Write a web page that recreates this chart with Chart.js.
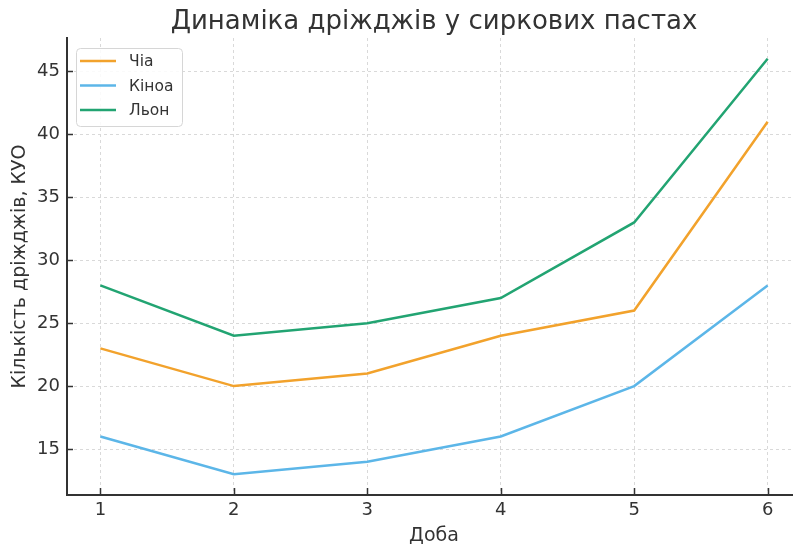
<!DOCTYPE html>
<html>
<head>
<meta charset="utf-8">
<script src="https://cdn.jsdelivr.net/npm/chart.js@4/dist/chart.umd.min.js"></script>
<style>
  html, body { margin: 0; padding: 0; background: #fff; overflow: hidden; }
  #wrap { position: relative; width: 868px; height: 548px; }
</style>
</head>
<body>
<div id="wrap"><canvas id="c"></canvas></div>
<script>
// Days of storage
const days = [1, 2, 3, 4, 5, 6];
// Yeast counts per paste, CFU
const chia   = [23, 20, 21, 24, 26, 41];
const quinoa = [16, 13, 14, 16, 20, 28];
const flax   = [28, 24, 25, 27, 33, 46];
// Axis tick values
const xTicks = [1, 2, 3, 4, 5, 6];
const yTicks = [15, 20, 25, 30, 35, 40, 45];

const seriesNames = ['Чіа', 'Кіноа', 'Льон'];
const seriesColors = ['#F2A22C', '#5CB6E8', '#22A472'];
const seriesValues = [chia, quinoa, flax];

const chartTitle = 'Динаміка дріжджів у сиркових пастах';

const FONT = 'DejaVu Sans, Verdana, sans-serif';
const INK = '#333333';

// Title centred over the plotting area
const plotTitle = {
  id: 'plotTitle',
  afterDraw(chart) {
    const ctx = chart.ctx;
    const a = chart.chartArea;
    ctx.save();
    ctx.font = '26px ' + FONT;
    ctx.fillStyle = INK;
    ctx.textAlign = 'center';
    ctx.textBaseline = 'alphabetic';
    ctx.fillText(chartTitle, (a.left + a.right) / 2, 28.5);
    ctx.restore();
  }
};

// Short tick marks pointing into the plot from both axes
const innerTicks = {
  id: 'innerTicks',
  afterDatasetsDraw(chart) {
    const ctx = chart.ctx;
    const a = chart.chartArea;
    const xs = chart.scales.x, ys = chart.scales.y;
    ctx.save();
    ctx.strokeStyle = INK;
    ctx.lineWidth = 1.5;
    ctx.beginPath();
    xs.ticks.forEach(t => {
      const px = Math.round(xs.getPixelForValue(t.value)) + 0.5;
      ctx.moveTo(px, a.bottom);
      ctx.lineTo(px, a.bottom - 7);
    });
    ys.ticks.forEach(t => {
      const py = Math.round(ys.getPixelForValue(t.value)) + 0.5;
      ctx.moveTo(a.left, py);
      ctx.lineTo(a.left + 6, py);
    });
    ctx.stroke();
    ctx.restore();
  }
};

// Legend in a rounded box at the top-left of the plot
const boxLegend = {
  id: 'boxLegend',
  afterDatasetsDraw(chart) {
    const ctx = chart.ctx;
    const a = chart.chartArea;
    const x0 = a.left + 9, y0 = a.top + 10, w = 106, h = 78;
    ctx.save();
    ctx.beginPath();
    ctx.roundRect(x0 + 0.5, y0 + 0.5, w, h, 4);
    ctx.fillStyle = 'rgba(255,255,255,0.85)';
    ctx.fill();
    ctx.strokeStyle = '#d6d6d6';
    ctx.lineWidth = 1;
    ctx.stroke();
    ctx.font = '15.5px ' + FONT;
    ctx.textBaseline = 'middle';
    chart.data.datasets.forEach((ds, i) => {
      const y = y0 + 13 + i * 24.5;
      ctx.beginPath();
      ctx.moveTo(x0 + 4, y);
      ctx.lineTo(x0 + 40, y);
      ctx.strokeStyle = ds.borderColor;
      ctx.lineWidth = 2.5;
      ctx.stroke();
      ctx.fillStyle = INK;
      ctx.fillText(ds.label, x0 + 53, y + 1);
    });
    ctx.restore();
  }
};

new Chart(document.getElementById('c'), {
  type: 'line',
  data: {
    datasets: seriesNames.map((name, i) => ({
      label: name,
      data: days.map((d, k) => ({ x: d, y: seriesValues[i][k] })),
      borderColor: seriesColors[i],
      backgroundColor: seriesColors[i],
      borderWidth: 2.5,
      pointRadius: 0,
      tension: 0,
      fill: false
    }))
  },
  options: {
    responsive: true,
    maintainAspectRatio: false,
    animation: false,
    devicePixelRatio: 1,
    layout: { padding: { left: 0, right: 67, top: 38, bottom: 0 } },
    plugins: {
      legend: { display: false },
      tooltip: { enabled: false },
      title: { display: false }
    },
    scales: {
      x: {
        type: 'linear',
        min: 0.75,
        max: 6.25,
        afterBuildTicks: s => { s.ticks = xTicks.map(v => ({ value: v })); },
        afterFit: s => { s.height = 53; },
        ticks: {
          color: INK,
          font: { family: FONT, size: 18 },
          padding: 5,
          maxRotation: 0
        },
        grid: {
          color: '#d9d9d9',
          lineWidth: 1,
          drawTicks: false
        },
        border: { display: true, color: INK, width: 2, dash: [3, 3] },
        title: {
          display: true,
          text: 'Доба',
          color: INK,
          font: { family: FONT, size: 19, lineHeight: 1.2 },
          padding: { top: 0, bottom: 1 }
        }
      },
      y: {
        type: 'linear',
        min: 11.35,
        max: 47.65,
        afterBuildTicks: s => { s.ticks = yTicks.map(v => ({ value: v })); },
        afterFit: s => { s.width = 67; },
        ticks: {
          color: INK,
          font: { family: FONT, size: 18 },
          padding: 7
        },
        grid: {
          color: '#d9d9d9',
          lineWidth: 1,
          drawTicks: false
        },
        border: { display: true, color: INK, width: 2, dash: [3, 3] },
        title: {
          display: true,
          text: 'Кількість дріжджів, КУО',
          color: INK,
          font: { family: FONT, size: 19, lineHeight: 1.2 },
          padding: { top: 9, bottom: 0 }
        }
      }
    }
  },
  plugins: [plotTitle, innerTicks, boxLegend]
});
</script>
</body>
</html>
